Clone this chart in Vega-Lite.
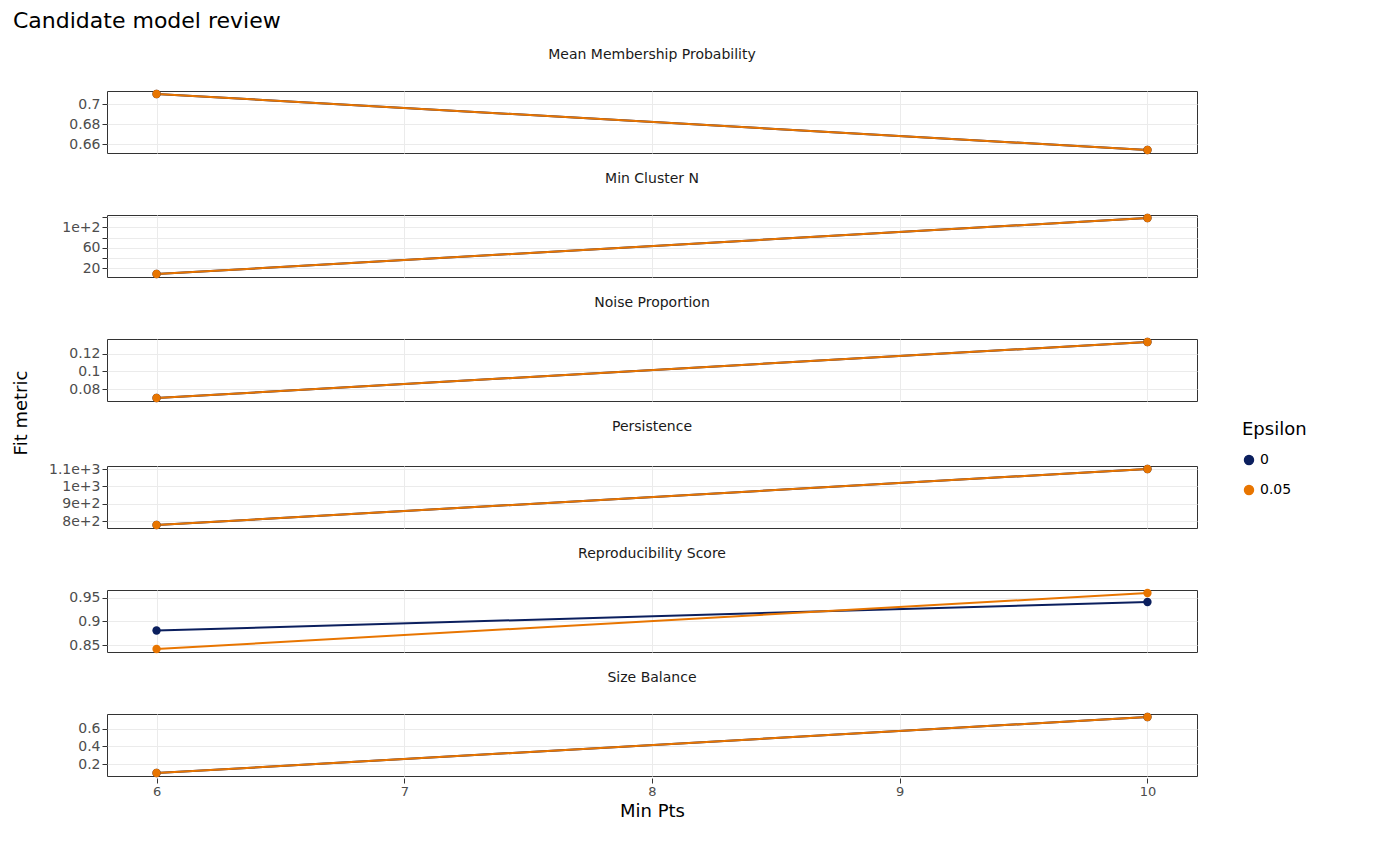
{
  "$schema": "https://vega.github.io/schema/vega-lite/v6.json",
  "title": {"text": "Candidate model review", "anchor": "start", "fontSize": 22, "font": "DejaVu Sans", "fontWeight": "normal", "offset": 14},
  "padding": {"left": 12, "top": 10, "right": 10, "bottom": 10},
  "data": {"values": [
    {"metric": "Mean Membership Probability", "minpts": 6, "eps": "0", "value": 0.71},
    {"metric": "Mean Membership Probability", "minpts": 10, "eps": "0", "value": 0.654},
    {"metric": "Mean Membership Probability", "minpts": 6, "eps": "0.05", "value": 0.71},
    {"metric": "Mean Membership Probability", "minpts": 10, "eps": "0.05", "value": 0.654},
    {"metric": "Min Cluster N", "minpts": 6, "eps": "0", "value": 9},
    {"metric": "Min Cluster N", "minpts": 10, "eps": "0", "value": 118},
    {"metric": "Min Cluster N", "minpts": 6, "eps": "0.05", "value": 9},
    {"metric": "Min Cluster N", "minpts": 10, "eps": "0.05", "value": 118},
    {"metric": "Noise Proportion", "minpts": 6, "eps": "0", "value": 0.07},
    {"metric": "Noise Proportion", "minpts": 10, "eps": "0", "value": 0.133},
    {"metric": "Noise Proportion", "minpts": 6, "eps": "0.05", "value": 0.07},
    {"metric": "Noise Proportion", "minpts": 10, "eps": "0.05", "value": 0.133},
    {"metric": "Persistence", "minpts": 6, "eps": "0", "value": 778},
    {"metric": "Persistence", "minpts": 10, "eps": "0", "value": 1100},
    {"metric": "Persistence", "minpts": 6, "eps": "0.05", "value": 778},
    {"metric": "Persistence", "minpts": 10, "eps": "0.05", "value": 1100},
    {"metric": "Reproducibility Score", "minpts": 6, "eps": "0", "value": 0.881},
    {"metric": "Reproducibility Score", "minpts": 10, "eps": "0", "value": 0.941},
    {"metric": "Reproducibility Score", "minpts": 6, "eps": "0.05", "value": 0.842},
    {"metric": "Reproducibility Score", "minpts": 10, "eps": "0.05", "value": 0.96},
    {"metric": "Size Balance", "minpts": 6, "eps": "0", "value": 0.1},
    {"metric": "Size Balance", "minpts": 10, "eps": "0", "value": 0.733},
    {"metric": "Size Balance", "minpts": 6, "eps": "0.05", "value": 0.1},
    {"metric": "Size Balance", "minpts": 10, "eps": "0.05", "value": 0.733}
  ]},
  "facet": {
    "row": {
      "field": "metric", "type": "nominal",
      "title": "Fit metric",
      "header": {"labelOrient": "top", "titleOrient": "left", "labelAngle": 0, "labelFontSize": 14, "labelColor": "#1a1a1a", "titleFontSize": 18, "titleFontWeight": "normal", "titleColor": "#000", "labelPadding": 14, "titlePadding": 6, "labelFont": "DejaVu Sans", "titleFont": "DejaVu Sans"}
    }
  },
  "spacing": 16,
  "spec": {
    "width": 1090,
    "height": 62,
    "encoding": {
      "x": {"field": "minpts", "type": "quantitative", "title": "Min Pts", "scale": {"domain": [5.8, 10.2], "nice": false},
        "axis": {"values": [6, 7, 8, 9, 10], "titleFontSize": 18, "titleFontWeight": "normal", "labelFontSize": 13}},
      "y": {"field": "value", "type": "quantitative", "title": null, "scale": {"zero": false, "nice": false, "padding": 3}, "axis": {"tickCount": 4, "labelFontSize": 14, "format": "~g"}},
      "color": {"field": "eps", "type": "nominal", "title": "Epsilon",
        "scale": {"domain": ["0", "0.05"], "range": ["#0b1f5e", "#e87500"]},
        "legend": {"titleFontSize": 18, "titleFontWeight": "normal", "labelFontSize": 14, "orient": "none", "legendX": 1135, "legendY": 330, "rowPadding": 14, "titlePadding": 14, "symbolSize": 80}}
    },
    "layer": [
      {"mark": {"type": "line", "strokeWidth": 2, "point": {"filled": true, "size": 70}}}
    ]
  },
  "resolve": {"scale": {"y": "independent"}},
  "config": {
    "font": "DejaVu Sans",
    "view": {"stroke": "#333"},
    "axis": {"gridColor": "#ebebeb", "domain": false, "tickColor": "#333", "labelColor": "#4d4d4d"}
  }
}
